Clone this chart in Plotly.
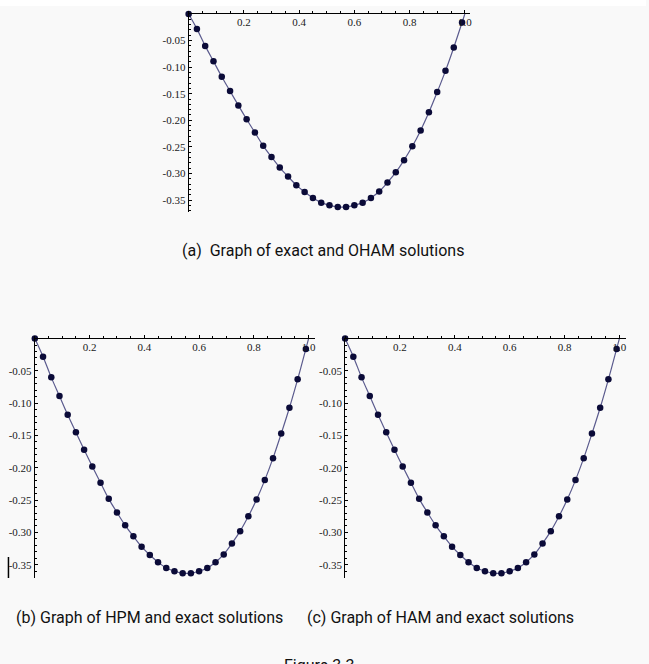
import plotly.graph_objects as go

# ---------------- data ----------------
x_points = [0.00, 0.03, 0.06, 0.09, 0.12, 0.15, 0.18, 0.21, 0.24, 0.27, 0.30, 0.33,
            0.36, 0.39, 0.42, 0.45, 0.48, 0.51, 0.54, 0.57, 0.60, 0.63, 0.66, 0.69,
            0.72, 0.75, 0.78, 0.81, 0.84, 0.87, 0.90, 0.93, 0.96, 0.99]
exact_vals = [0.000, -0.028, -0.060, -0.089, -0.118, -0.145, -0.172, -0.198, -0.223,
              -0.248, -0.269, -0.289, -0.306, -0.322, -0.335, -0.346, -0.355, -0.360,
              -0.363, -0.363, -0.360, -0.355, -0.346, -0.334, -0.317, -0.298, -0.275,
              -0.249, -0.219, -0.185, -0.147, -0.107, -0.063, -0.016]
x_line = x_points + [1.0]
y_line = exact_vals + [0.0]

oham_vals = list(exact_vals)
hpm_vals = list(exact_vals)
ham_vals = list(exact_vals)

x_tick_vals = [0.2, 0.4, 0.6, 0.8, 1.0]
x_tick_text = ["0.2", "0.4", "0.6", "0.8", "1.0"]
y_tick_vals = [-0.05, -0.10, -0.15, -0.20, -0.25, -0.30, -0.35]
y_tick_text = ["-0.05", "-0.10", "-0.15", "-0.20", "-0.25", "-0.30", "-0.35"]

captions = ["(a)  Graph of exact and OHAM solutions",
            "(b) Graph of HPM and exact solutions",
            "(c) Graph of HAM and exact solutions",
            "Figure 3.3"]

# ---------------- layout helpers ----------------
W, H = 649, 664
def px(p):
    return p / W
def py(p):
    return 1 - p / H

LINE_COLOR = "#5b5b8e"
MARK_COLOR = "#0b0b38"
BG = "#f9f9f9"
TICK_FONT = dict(family="Liberation Serif, Times New Roman, serif", size=11, color="#1a1a1a")
CAP_FONT = dict(family="Roboto, sans-serif", size=16, color="#111111")

fig = go.Figure()

panels = [
    ("x", "y", oham_vals, (189.5, 471.7), (14.0, 211.7), [0, 1.017], [-0.372, 0]),
    ("x2", "y2", hpm_vals, (35.0, 316.9), (338.6, 578.0), [0, 1.025], [-0.3705, 0]),
    ("x3", "y3", ham_vals, (346.7, 629.0), (338.6, 578.0), [0, 1.0245], [-0.3705, 0]),
]

for i, (xa, ya, vals, xd, yd, xr, yr) in enumerate(panels):
    fig.add_trace(go.Scatter(x=x_line, y=y_line, mode="lines", xaxis=xa, yaxis=ya,
                             line=dict(color=LINE_COLOR, width=1.2, shape="spline"),
                             cliponaxis=False, showlegend=False, hoverinfo="skip"))
    fig.add_trace(go.Scatter(x=x_points, y=vals, mode="markers", xaxis=xa, yaxis=ya,
                             marker=dict(color=MARK_COLOR, size=6.5),
                             cliponaxis=False, showlegend=False))
    xname = "xaxis" if i == 0 else f"xaxis{i+1}"
    yname = "yaxis" if i == 0 else f"yaxis{i+1}"
    fig.layout[xname] = dict(
        domain=[px(xd[0]), px(xd[1])], range=xr, anchor=ya, side="top",
        showline=True, linecolor="black", linewidth=1, showgrid=False, zeroline=False,
        tickmode="array", tickvals=x_tick_vals, ticktext=x_tick_text,
        ticks="outside", ticklen=3, tickcolor="black", tickwidth=1,
        ticklabelposition="inside", ticklabelstandoff=4, ticklabeloverflow="allow",
        tickfont=TICK_FONT,
        minor=dict(tickmode="linear", tick0=0, dtick=0.05, ticks="outside",
                   ticklen=2, tickcolor="black", showgrid=False),
    )
    fig.layout[yname] = dict(
        domain=[py(yd[1]), py(yd[0])], range=yr, anchor=xa,
        showline=True, linecolor="black", linewidth=1, showgrid=False, zeroline=False,
        tickmode="array", tickvals=y_tick_vals, ticktext=y_tick_text,
        ticks="inside", ticklen=3, tickcolor="black", tickwidth=1,
        tickfont=TICK_FONT,
        minor=dict(tickmode="linear", tick0=0, dtick=0.01, ticks="inside",
                   ticklen=2, tickcolor="black", showgrid=False),
    )

cap_pos = [(324, 250, "middle"), (150, 617, "middle"), (443, 617, "middle"), (320, 654, "top")]
for text, (cx, cy, ya) in zip(captions, cap_pos):
    fig.add_annotation(text=text, xref="paper", yref="paper", x=px(cx), y=py(cy),
                       xanchor="center", yanchor=ya, showarrow=False, font=CAP_FONT)

fig.add_shape(type="rect", xref="paper", yref="paper", x0=0, x1=1, y0=py(6), y1=1,
              fillcolor="white", line=dict(width=0), layer="below")
fig.add_shape(type="line", xref="paper", yref="paper", x0=px(8.5), x1=px(8.5),
              y0=py(578), y1=py(557), line=dict(color="black", width=1.5))

fig.update_layout(width=W, height=H, margin=dict(l=0, r=0, t=0, b=0),
                  paper_bgcolor=BG, plot_bgcolor=BG)

fig.write_html("out.html", config={"displayModeBar": False},
               post_script="document.body.style.margin='0';document.body.style.padding='0';"
                           "document.documentElement.style.overflow='hidden';")
